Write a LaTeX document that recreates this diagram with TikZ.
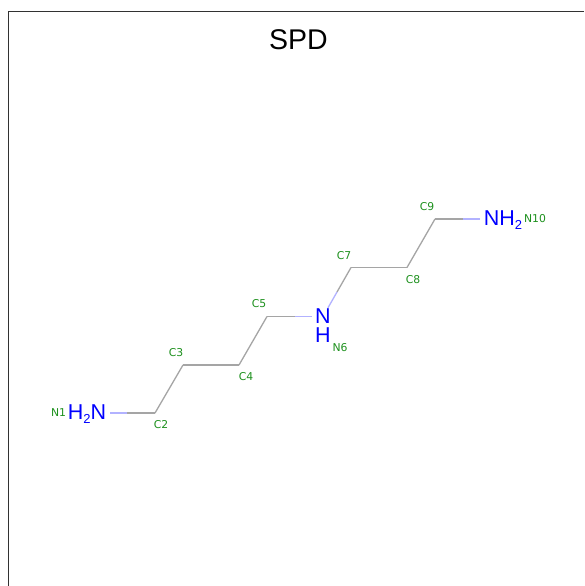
\documentclass[tikz,border=0pt]{standalone}
\usepackage{fontspec}
\setmainfont{Liberation Sans}
\newfontfamily\labelfont{DejaVu Sans}
\usetikzlibrary{calc}
\definecolor{bondgrey}{RGB}{165,165,165}
\definecolor{bondblue}{RGB}{178,178,255}
\definecolor{atomblue}{RGB}{0,0,255}
\definecolor{labelgreen}{RGB}{30,145,30}
\definecolor{framegrey}{RGB}{50,50,50}
\tikzset{
  greybond/.style={draw=bondgrey,line width=1.3pt},
  bluebond/.style={draw=bondblue,line width=1.3pt},
  atomtext/.style={text=atomblue,font=\fontsize{21.5}{19}\selectfont,inner sep=0pt,align=center},
  atomlabel/.style={text=labelgreen,font=\labelfont\fontsize{10.8}{10.8}\selectfont,inner sep=0pt},
  titletext/.style={text=black,font=\fontsize{28.5}{29}\selectfont,inner sep=0pt},
  frameline/.style={draw=framegrey,line width=1pt}
}
\begin{document}
\begin{tikzpicture}[x=1pt,y=-1pt]
\useasboundingbox (0,0) rectangle (584,586);
\fill[white] (0,0) rectangle (584,586);
\coordinate (frameTL) at (8.5,12);
\coordinate (frameTR) at (584,12);
\coordinate (frameBL) at (8.5,586);
\draw[frameline] (frameTR) -- (frameTL) -- (frameBL);
\node[titletext] (title) at (298.5,40) {SPD};
% atom centres
\coordinate (n1c) at (99,413);
\coordinate (c2) at (155,413);
\coordinate (c3) at (183,365);
\coordinate (c4) at (239,365);
\coordinate (c5) at (267,316.5);
\coordinate (n6c) at (323,316.5);
\coordinate (c7) at (351,267.5);
\coordinate (c8) at (407,267.5);
\coordinate (c9) at (435,219);
\coordinate (n10c) at (491,219);
% carbon-carbon bonds
\draw[greybond] (c2) -- (c3);
\draw[greybond] (c3) -- (c4);
\draw[greybond] (c4) -- (c5);
\draw[greybond] (c7) -- (c8);
\draw[greybond] (c8) -- (c9);
% carbon-nitrogen bonds
\draw[greybond] (c2) -- ($(c2)!.5!(n1c)$);
\draw[bluebond] ($(c2)!.5!(n1c)$) -- ($(n1c)!11pt!(c2)$);
\draw[greybond] (c5) -- ($(c5)!.5!(n6c)$);
\draw[bluebond] ($(c5)!.5!(n6c)$) -- ($(n6c)!11pt!(c5)$);
\draw[greybond] (c7) -- ($(c7)!.5!(n6c)$);
\draw[bluebond] ($(c7)!.5!(n6c)$) -- ($(n6c)!10pt!(c7)$);
\draw[greybond] (c9) -- ($(c9)!.5!(n10c)$);
\draw[bluebond] ($(c9)!.5!(n10c)$) -- ($(n10c)!11pt!(c9)$);
% heteroatoms
\node[atomtext] (n1) at (87,414) {H\raisebox{-3.5pt}{\fontsize{13}{13}\selectfont 2}N};
\node[atomtext] (n6) at (323,326) {N\\H};
\node[atomtext] (n10) at (503,220) {NH\raisebox{-3.5pt}{\fontsize{13}{13}\selectfont 2}};
% labels
\node[atomlabel] (l1) at (58.5,413) {N1};
\node[atomlabel] (l2) at (161,425) {C2};
\node[atomlabel] (l3) at (176,352.5) {C3};
\node[atomlabel] (l4) at (246,377) {C4};
\node[atomlabel] (l5) at (259,304) {C5};
\node[atomlabel] (l6) at (340,347.5) {N6};
\node[atomlabel] (l7) at (344,255.5) {C7};
\node[atomlabel] (l8) at (413,279.5) {C8};
\node[atomlabel] (l9) at (427,207) {C9};
\node[atomlabel] (l10) at (535,219) {N10};
\end{tikzpicture}
\end{document}
